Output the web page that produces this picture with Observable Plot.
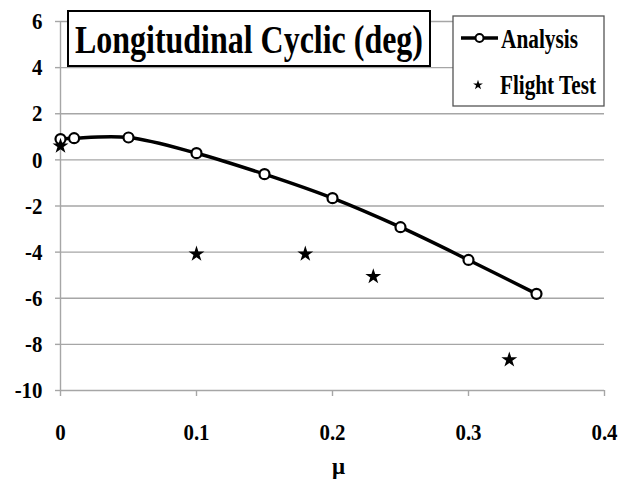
<!DOCTYPE html>
<html><head><meta charset="utf-8">
<script src="https://cdn.jsdelivr.net/npm/d3@7"></script>
<script src="https://cdn.jsdelivr.net/npm/@observablehq/plot@0.6"></script>
<style>body{margin:0;background:#fff} #chart{width:629px;height:496px}</style>
</head><body><div id="chart"></div>
<script>
const analysisMu = [0, 0.01, 0.05, 0.1, 0.15, 0.2, 0.25, 0.3, 0.35];
const analysisDeg = [0.90, 0.94, 0.97, 0.29, -0.62, -1.66, -2.92, -4.34, -5.81];
const flightMu = [0, 0.1, 0.18, 0.23, 0.33];
const flightDeg = [0.6, -4.08, -4.08, -5.06, -8.67];
const xTicks = [0, 0.1, 0.2, 0.3, 0.4];
const yTicks = [6, 4, 2, 0, -2, -4, -6, -8, -10];
const titleText = "Longitudinal Cyclic (deg)";
const xLabel = "μ";
const seriesNames = ["Analysis", "Flight Test"];

const analysis = analysisMu.map((x, i) => ({x, y: analysisDeg[i]}));
const flight = flightMu.map((x, i) => ({x, y: flightDeg[i]}));

const font = "'Liberation Serif', 'Times New Roman', serif";
const grid = "#a6a6a6";

const plot = Plot.plot({
  width: 629, height: 496,
  marginLeft: 60, marginRight: 25, marginTop: 21, marginBottom: 106,
  style: {fontFamily: font, fontWeight: "bold", fontSize: "24px", color: "#000", background: "#fff", overflow: "visible"},
  x: {domain: [0, 0.4]},
  y: {domain: [-10, 6]},
  marks: [
    Plot.gridY(yTicks, {stroke: grid, strokeOpacity: 1, strokeWidth: 1.4}),
    Plot.ruleX([0], {stroke: grid, strokeWidth: 1.4}),
    Plot.axisY(yTicks, {tickSize: 5, tickPadding: 13, stroke: grid, strokeWidth: 1.4, fill: "#000", label: null, tickFormat: d => String(d), className: "tk"}),
    Plot.axisX(xTicks, {tickSize: 6, tickPadding: 26, stroke: grid, strokeWidth: 1.4, fill: "#000", label: null, tickFormat: d => d === 0 ? "0" : d.toFixed(1), className: "tk"}),
    Plot.text([xLabel], {frameAnchor: "bottom", dx: 6, dy: 83, fontSize: 23, fontWeight: "bold", fill: "#000"}),
    Plot.line(analysis, {x: "x", y: "y", stroke: "#000", strokeWidth: 3.5, curve: "catmull-rom"}),
    Plot.dot(analysis, {x: "x", y: "y", r: 5, fill: "#fff", stroke: "#000", strokeWidth: 2.2}),
    Plot.dot(flight, {x: "x", y: "y", symbol: "star", r: 5, fill: "#000", stroke: "none"})
  ]
});
document.getElementById("chart").appendChild(plot);

const svg = d3.select(plot);
// condense tick labels horizontally like the reference
svg.selectAll("g[aria-label$='tick label'] text").each(function() {
  const w = this.getComputedTextLength();
  d3.select(this).attr("textLength", w * 0.87).attr("lengthAdjust", "spacingAndGlyphs");
});

// Title box
const tg = svg.append("g").attr("text-anchor", "start");
tg.append("rect").attr("x", 68).attr("y", 11).attr("width", 362).attr("height", 55)
  .attr("fill", "#fff").attr("stroke", "#000").attr("stroke-width", 2);
tg.append("text").attr("x", 75).attr("y", 53).text(titleText)
  .attr("font-family", font).attr("font-weight", "bold").attr("font-size", 40)
  .attr("textLength", 348).attr("lengthAdjust", "spacingAndGlyphs").attr("fill", "#000");

// Legend
const lg = svg.append("g").attr("text-anchor", "start");
lg.append("rect").attr("x", 453).attr("y", 16).attr("width", 151).attr("height", 90)
  .attr("fill", "#fff").attr("stroke", "#555").attr("stroke-width", 1.3);
lg.append("line").attr("x1", 461).attr("x2", 498).attr("y1", 38).attr("y2", 38)
  .attr("stroke", "#000").attr("stroke-width", 3.5);
lg.append("circle").attr("cx", 479.5).attr("cy", 38).attr("r", 4)
  .attr("fill", "#fff").attr("stroke", "#000").attr("stroke-width", 2);
lg.append("path").attr("transform", "translate(478,85)")
  .attr("d", d3.symbol(d3.symbolStar, 30)()).attr("fill", "#000");
lg.append("text").attr("x", 501).attr("y", 48).text(seriesNames[0])
  .attr("font-family", font).attr("font-weight", "bold").attr("font-size", 27)
  .attr("textLength", 77).attr("lengthAdjust", "spacingAndGlyphs").attr("fill", "#000");
lg.append("text").attr("x", 500).attr("y", 94).text(seriesNames[1])
  .attr("font-family", font).attr("font-weight", "bold").attr("font-size", 27)
  .attr("textLength", 96).attr("lengthAdjust", "spacingAndGlyphs").attr("fill", "#000");
</script>
</body></html>
